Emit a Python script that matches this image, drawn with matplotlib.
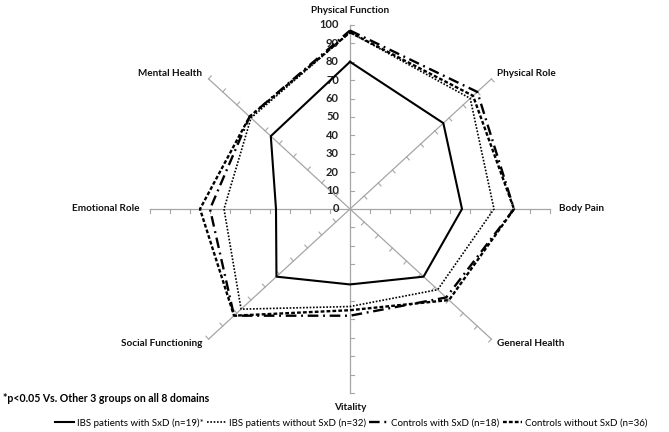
import numpy as np
import matplotlib
matplotlib.use("Agg")
import matplotlib.pyplot as plt

plt.rcParams["font.family"] = ["Lato", "DejaVu Sans"]

categories = ["Physical Function", "Physical Role", "Body Pain", "General Health",
              "Vitality", "Social Functioning", "Emotional Role", "Mental Health"]
ibs_sxd = [80, 66, 56, 52, 41, 52, 37, 56]
ibs_no_sxd = [96, 85, 72, 62, 53, 77, 63, 70]
ctrl_sxd = [97, 90, 82, 68, 58, 82, 70, 71]
ctrl_no_sxd = [96, 87, 82, 70, 55, 82, 75, 71]
r_ticks = [0, 10, 20, 30, 40, 50, 60, 70, 80, 90, 100]

series_labels = ["IBS patients with SxD (n=19)*", "IBS patients without SxD (n=32)",
                 "Controls with SxD (n=18)", "Controls without SxD (n=36)"]

W, H = 669, 432
PX_X, PX_Y = 2.0, 1.84      # pixels per unit, horizontal / vertical
CX, CY = 350, 209           # centre in image pixels

fig = plt.figure(figsize=(W / 100, H / 100), dpi=100)
ax_l, ax_r, ax_t, ax_b = 100, 600, 0, 400
ax = fig.add_axes([ax_l / W, 1 - ax_b / H, (ax_r - ax_l) / W, (ax_b - ax_t) / H])
ax.set_xlim((ax_l - CX) / PX_X, (ax_r - CX) / PX_X)
ax.set_ylim((CY - ax_b) / PX_Y, (CY - ax_t) / PX_Y)
ax.axis("off")

n = len(categories)
theta = np.arange(n) * 2 * np.pi / n
grid_col = "#a6a6a6"

# spokes with small tick marks
for th in theta:
    dx, dy = np.sin(th), np.cos(th)
    ax.plot([0, 100 * dx], [0, 100 * dy], color=grid_col, lw=0.9, zorder=1)
    sx, sy = dx * PX_X, dy * PX_Y
    norm = np.hypot(sx, sy)
    px, py = sy / norm, -sx / norm
    if abs(dx) < 1e-6:
        px, py = 1.0, 0.0
    elif abs(dy) < 1e-6:
        px, py = 0.0, -1.0
    tl = 4
    for r in r_ticks[1:]:
        x0, y0 = r * dx, r * dy
        ax.plot([x0, x0 + px * tl / PX_X], [y0, y0 + py * tl / PX_Y],
                color=grid_col, lw=0.8, zorder=1)

for r in r_ticks:
    ax.text(-5.5, r, str(r), ha="right", va="center", fontsize=8,
            fontweight="bold", color="#222222")


def closed(vals):
    v = np.array(vals + vals[:1], dtype=float)
    t = np.concatenate([theta, theta[:1]])
    return v * np.sin(t), v * np.cos(t)


styles = [
    dict(ls="-", lw=1.5),
    dict(ls=(0, (1, 1)), lw=1.2),
    dict(ls=(0, (4.5, 2, 0.8, 2)), lw=1.7),
    dict(ls=(0, (1.6, 0.9)), lw=1.7),
]
handles = []
for vals, st, lab in zip([ibs_sxd, ibs_no_sxd, ctrl_sxd, ctrl_no_sxd], styles, series_labels):
    x, y = closed(vals)
    h, = ax.plot(x, y, color="black", label=lab, zorder=3, **st)
    handles.append(h)

# category labels (positions in image pixels)
label_pos = [
    (350, 11, "center"), (497, 74, "left"), (559, 209, "left"), (497, 344, "left"),
    (350, 408, "center"), (202, 344, "right"), (140, 209, "right"), (202, 74, "right"),
]
for cat, (lx, ly, ha) in zip(categories, label_pos):
    ax.text((lx - CX) / PX_X, (CY - ly) / PX_Y, cat, ha=ha, va="center",
            fontsize=7.2, fontweight="bold", color="#111111")

fig.text(3 / W, 1 - 399 / H, "*p<0.05 Vs. Other 3 groups on all 8 domains",
         ha="left", va="center", fontsize=7.6, fontweight="bold")

fig.legend(handles=handles, loc="center", bbox_to_anchor=(351 / W, 1 - 423 / H),
           ncol=4, frameon=False, fontsize=7, handlelength=2.0,
           handletextpad=0.3, columnspacing=0.3)

fig.savefig("out.png", dpi=100)
